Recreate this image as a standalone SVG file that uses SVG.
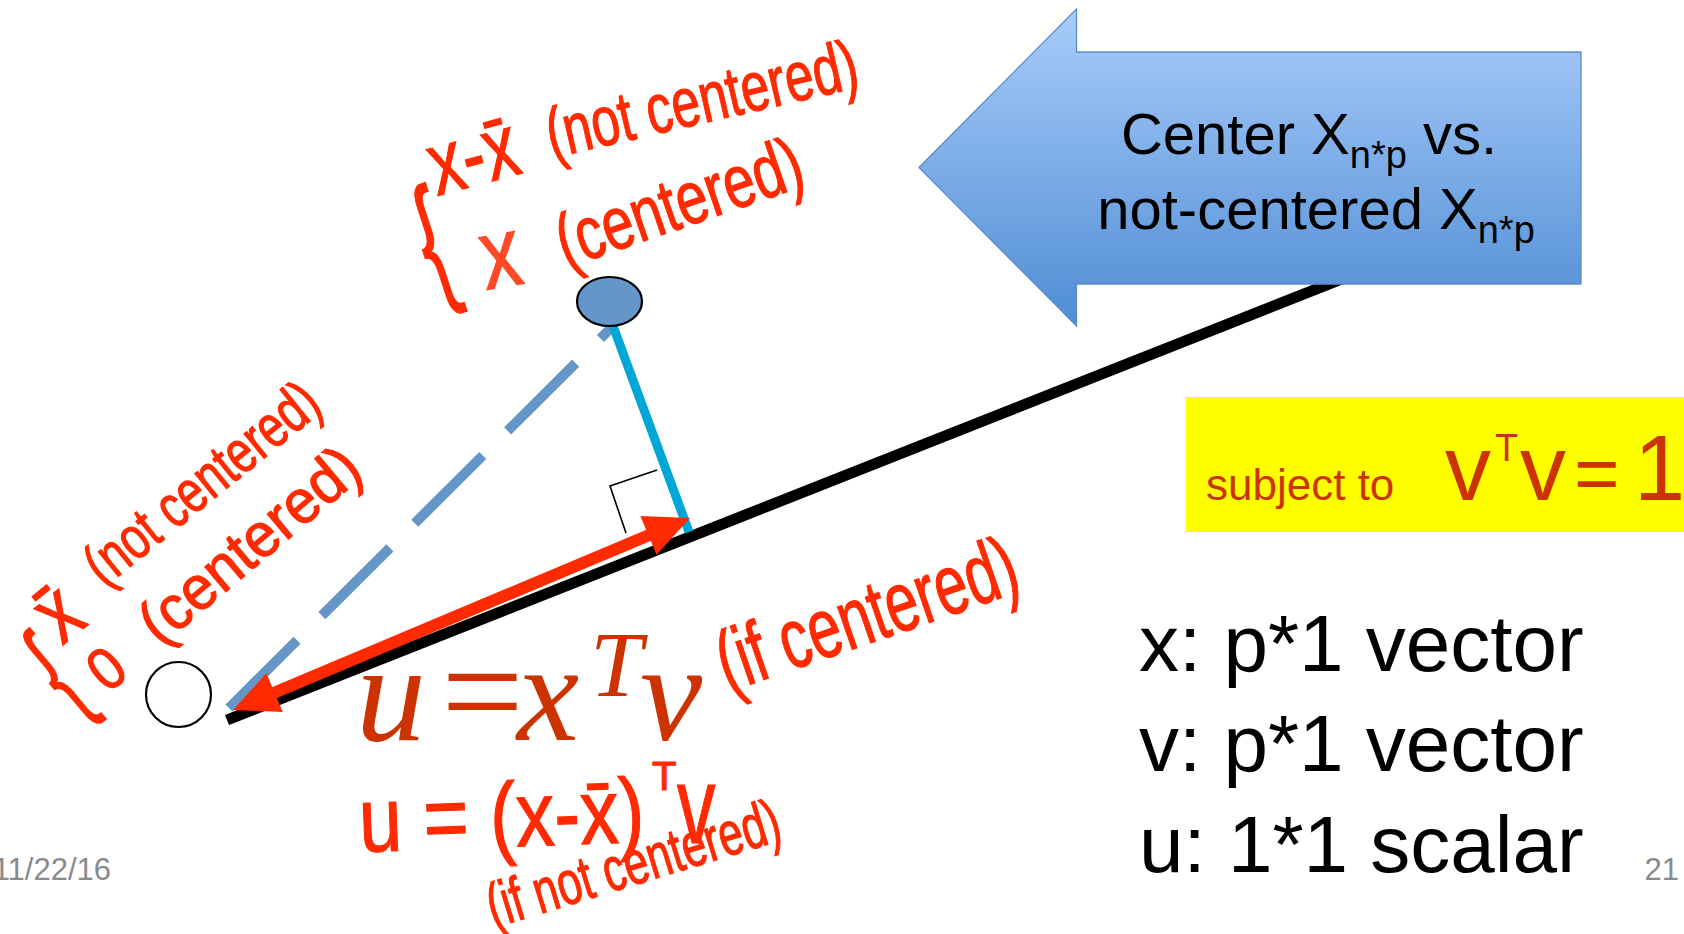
<svg xmlns="http://www.w3.org/2000/svg" width="1684" height="934" viewBox="0 0 1684 934">
<style>
.hw{font-family:"Liberation Sans",Arial,sans-serif;fill:#ff2a00;stroke:#ff2a00;stroke-width:1.2}
.callout{font-family:"Liberation Sans",Arial,sans-serif;font-size:58px;fill:#000}
.sub{font-size:38px}
.legend{font-family:"Liberation Sans",Arial,sans-serif;font-size:80px;fill:#000}
.footer{font-family:"Liberation Sans",Arial,sans-serif;font-size:31px;fill:#8a8a8a}
.constraint{font-family:"Liberation Sans",Arial,sans-serif;fill:#cc3300}
.formula{font-family:"Liberation Serif","Times New Roman",serif;font-style:italic;fill:#cc3300}
</style>
<defs>
<linearGradient id="blueGrad" x1="0" y1="9" x2="0" y2="326" gradientUnits="userSpaceOnUse">
<stop offset="0" stop-color="#a9ccfa"/>
<stop offset="1" stop-color="#4f8dd4"/>
</linearGradient>
<marker id="redHead" markerUnits="userSpaceOnUse" markerWidth="46" markerHeight="44" refX="1" refY="21" orient="auto-start-reverse" overflow="visible">
<path d="M0,0 L45,21 L0,42 Z" fill="#ff2a00"/>
</marker>
</defs>
<rect width="1684" height="934" fill="#fff"/>

<g id="connectors">
<line id="axis" x1="227" y1="720" x2="1400" y2="256" stroke="#000" stroke-width="11"/>
<line id="dashed" x1="229" y1="708" x2="612" y2="327" stroke="#6496c8" stroke-width="10" stroke-dasharray="96 35"/>
<line id="projection" x1="613" y1="326" x2="689" y2="532" stroke="#00a6d6" stroke-width="9"/>
<polyline id="right-angle" points="626,533 610,486 657,470" fill="none" stroke="#000" stroke-width="1.6"/>
<line id="red-arrow" x1="273.6" y1="693" x2="649.4" y2="535" stroke="#ff2a00" stroke-width="12" marker-start="url(#redHead)" marker-end="url(#redHead)"/>
</g>

<g id="node-origin">
<circle cx="178.5" cy="694.5" r="32.5" fill="#fff" stroke="#000" stroke-width="2.2"/>
</g>
<g id="node-point">
<ellipse cx="609.5" cy="301.5" rx="32.5" ry="24.5" fill="#6396c9" stroke="#000" stroke-width="2.2"/>
</g>

<g id="node-callout">
<path d="M919,167.5 L1076.5,9 L1076.5,52 L1581,52 L1581,284 L1076.5,284 L1076.5,326 Z" fill="url(#blueGrad)" stroke="#5b8ccb" stroke-width="1.3"/>
<text class="callout" x="1309" y="154" text-anchor="middle">Center X<tspan class="sub" dy="14">n*p</tspan><tspan dy="-14"> vs.</tspan></text>
<text class="callout" x="1316" y="229" text-anchor="middle">not-centered X<tspan class="sub" dy="14">n*p</tspan></text>
</g>

<g id="node-constraint">
<rect x="1186" y="397" width="498" height="135" fill="#ffff00"/>
<text class="constraint" x="1206" y="500" font-size="44">subject to</text>
<text class="constraint" x="1445" y="500" font-size="92">v</text>
<text class="constraint" x="1495" y="461" font-size="38">T</text>
<text class="constraint" x="1520" y="500" font-size="92">v</text>
<text class="constraint" x="1574" y="500" font-size="78">=</text>
<text class="constraint" x="1634" y="500" font-size="92">1</text>
</g>

<g id="node-legend">
<text class="legend" x="1139" y="671">x: p*1 vector</text>
<text class="legend" x="1139" y="771">v: p*1 vector</text>
<text class="legend" x="1139" y="872">u: 1*1 scalar</text>
</g>

<g id="node-formula">
<text class="formula" x="356" y="740" font-size="140">u</text>
<text class="formula" x="432" y="740" font-size="146" font-style="normal">=</text>
<text class="formula" x="517" y="740" font-size="140">x</text>
<text class="formula" x="590" y="696" font-size="94" fill="#dd5200">T</text>
<text class="formula" x="640" y="740" font-size="140">v</text>
</g>

<g id="annotations-top">
<text class="hw" transform="translate(435,250) rotate(-18) scale(0.55,1)" x="0" y="38" font-size="145" text-anchor="middle">{</text>
<text class="hw" transform="translate(437,196) rotate(-15) scale(0.75,1)" font-size="90">x-x̄</text>
<text class="hw" transform="translate(552,158) rotate(-13) scale(0.73,1)" font-size="70">(not centered)</text>
<text class="hw" transform="translate(486,290) rotate(-10) scale(0.8,1)" font-size="100" opacity="0.85">x</text>
<text class="hw" transform="translate(566,268) rotate(-19) scale(0.75,1)" font-size="75">(centered)</text>
</g>

<g id="annotations-left">
<text class="hw" transform="translate(60,680) rotate(-40) scale(0.55,1)" x="0" y="33" font-size="128" text-anchor="middle">{</text>
<text class="hw" transform="translate(62,646) rotate(-39) scale(0.8,1)" font-size="88">x̄</text>
<text class="hw" transform="translate(104,588) rotate(-39) scale(0.76,1)" font-size="60">(not centered)</text>
<text class="hw" transform="translate(108,694) rotate(-40) scale(0.9,1)" font-size="60">0</text>
<text class="hw" transform="translate(160,647) rotate(-40) scale(0.95,1)" font-size="62">(centered)</text>
</g>

<g id="annotations-bottom">
<text class="hw" transform="translate(728,692) rotate(-19) scale(0.69,1)" font-size="85">(if centered)</text>
<text class="hw" transform="translate(360,852) rotate(-2) scale(0.84,1)" font-size="92">u = (x-x̄)</text>
<text class="hw" x="652" y="790" font-size="40">T</text>
<text class="hw" transform="translate(677,843) scale(0.7,1)" font-size="110">v</text>
<text class="hw" transform="translate(494,928) rotate(-17) scale(0.7,1)" font-size="62">(if not centered)</text>
</g>

<g id="footer">
<text class="footer" x="111" y="880" text-anchor="end">11/22/16</text>
<text class="footer" x="1679" y="880" text-anchor="end">21</text>
</g>
</svg>
